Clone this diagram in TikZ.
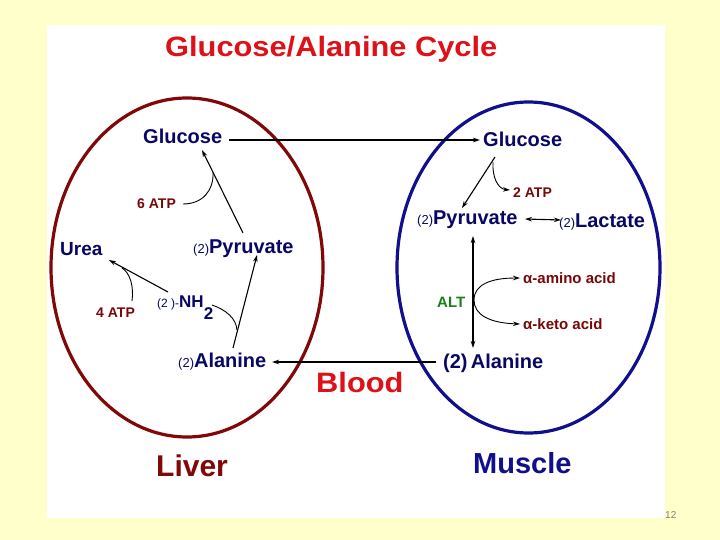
\documentclass[tikz,border=0pt]{standalone}
\usepackage{fontspec}
\setmainfont{Liberation Sans}
\newfontfamily\widefont[FakeStretch=1.1]{Liberation Sans}
\usetikzlibrary{arrows.meta}
\definecolor{bgyellow}{RGB}{255,255,204}
\definecolor{titlered}{RGB}{222,16,24}
\definecolor{liverred}{RGB}{128,8,8}
\definecolor{musclenavy}{RGB}{16,16,140}
\definecolor{navytext}{RGB}{8,8,100}
\definecolor{atpred}{RGB}{120,8,8}
\definecolor{altgreen}{RGB}{24,128,24}
\definecolor{pagegrey}{RGB}{130,130,110}
\tikzset{
  lbl/.style={inner sep=0pt, anchor=base west},
  navy/.style={lbl, text=navytext, font=\fontsize{20}{24}\selectfont\bfseries},
  atp/.style={lbl, text=atpred, font=\fontsize{14}{16}\selectfont\bfseries},
  conn/.style={line width=1.1pt, draw=black},
  tip/.style={-{Stealth[length=7pt,width=4.5pt]}},
  tips/.style={{Stealth[length=7pt,width=4.5pt]}-{Stealth[length=7pt,width=4.5pt]}},
  hook/.style={line width=0.9pt, draw=black}
}
\newcommand{\smtwo}{{\fontsize{13}{13}\selectfont\mdseries(2)}}
\begin{document}
\begin{tikzpicture}[x=1pt,y=-1pt]
\useasboundingbox (0,0) rectangle (720,540);
\fill[bgyellow] (0,0) rectangle (720,540);
\fill[white] (47,25) rectangle (665,518);
% organ outlines
\draw[liverred, line width=3.2pt] (187,267.5) ellipse [x radius=136, y radius=169.5];
\draw[musclenavy, line width=3.2pt] (528.5,267.5) ellipse [x radius=131.5, y radius=165.5];
% title and region labels
\node[lbl, text=titlered, font=\fontsize{28}{32}\selectfont\bfseries\widefont] (title) at (165,57) {Glucose/Alanine Cycle};
\node[lbl, text=titlered, font=\fontsize{28}{32}\selectfont\bfseries\widefont] (blood) at (316,392) {Blood};
\node[lbl, text=liverred, font=\fontsize{30}{34}\selectfont\bfseries] (liver) at (156,476) {Liver};
\node[lbl, text=musclenavy, font=\fontsize{29}{33}\selectfont\bfseries] (muscle) at (473,473) {Muscle};
% liver side
\node[navy] (glL) at (143,144) {Glucose};
\node[atp] (atp6) at (137,208) {6 ATP};
\node[navy, font=\fontsize{19}{22}\selectfont\bfseries] (urea) at (60,255) {Urea};
\node[navy] (pyrL) at (193,253) {\smtwo Pyruvate};
\node[atp] (atp4) at (96,317) {4 ATP};
\node[navy, font=\fontsize{17}{20}\selectfont\bfseries] (nh2) at (157,307) {{\fontsize{12}{12}\selectfont\mdseries(2 )-}NH\raisebox{-12pt}{2}};
\node[navy] (alaL) at (178,367) {\smtwo Alanine};
% muscle side
\node[navy] (glR) at (483,147) {Glucose};
\node[atp] (atp2) at (513,198) {2 ATP};
\node[navy] (pyrR) at (417,225) {\smtwo Pyruvate};
\node[navy] (lac) at (559,228) {\smtwo Lactate};
\node[atp, font=\fontsize{15}{18}\selectfont\bfseries] (amino) at (523,283) {α-amino acid};
\node[atp, font=\fontsize{15}{18}\selectfont\bfseries] (keto) at (523,329) {α-keto acid};
\node[lbl, text=altgreen, font=\fontsize{15}{18}\selectfont\bfseries] (alt) at (437,307) {ALT};
\node[navy] (alaR) at (443,368) {(2)\,Alanine};
\node[lbl, text=pagegrey, font=\fontsize{10}{12}\selectfont] (page) at (665,518) {12};
% connector end points
\coordinate (gA) at (229,140);
\coordinate (gB) at (480,140);
\coordinate (pLa) at (243,233);
\coordinate (gLb) at (202,150);
\coordinate (j6) at (213,172);
\coordinate (a6) at (183,204);
\coordinate (nA) at (168,292);
\coordinate (uB) at (109,260);
\coordinate (j4) at (122,268);
\coordinate (a4) at (132,301);
\coordinate (alA) at (233,348);
\coordinate (pLb) at (257,255);
\coordinate (jn) at (237,330);
\coordinate (nB) at (212,305);
\coordinate (bA) at (436,362);
\coordinate (bB) at (272,362);
\coordinate (gRa) at (495,157);
\coordinate (pRb) at (462,208);
\coordinate (j2) at (493,162);
\coordinate (a2) at (510,190);
\coordinate (pRr) at (525,219);
\coordinate (lcl) at (561,220);
\coordinate (vt) at (473,236);
\coordinate (vb) at (473,348);
\coordinate (jalt) at (474,300);
\coordinate (amA) at (520,278);
\coordinate (keA) at (520,324);
% connectors
\draw[conn, tip] (gA) -- (gB);
\draw[conn, tip] (pLa) -- (gLb);
\draw[hook] (a6) .. controls (203,204) and (214,190) .. (j6);
\draw[conn, tip] (nA) -- (uB);
\draw[hook] (a4) .. controls (134,286) and (130,273) .. (j4);
\draw[conn, tip] (alA) -- (pLb);
\draw[hook] (nB) .. controls (226,310) and (236,318) .. (jn);
\draw[conn, tip] (bA) -- (bB);
\draw[conn, tip] (gRa) -- (pRb);
\draw[hook, tip] (j2) .. controls (492,177) and (498,189) .. (a2);
\draw[conn, tips] (pRr) -- (lcl);
\draw[conn, tips] (vt) -- (vb);
\draw[hook, tip] (jalt) .. controls (474,285) and (490,278) .. (amA);
\draw[hook, tip] (jalt) .. controls (474,315) and (490,323) .. (keA);
\end{tikzpicture}
\end{document}
